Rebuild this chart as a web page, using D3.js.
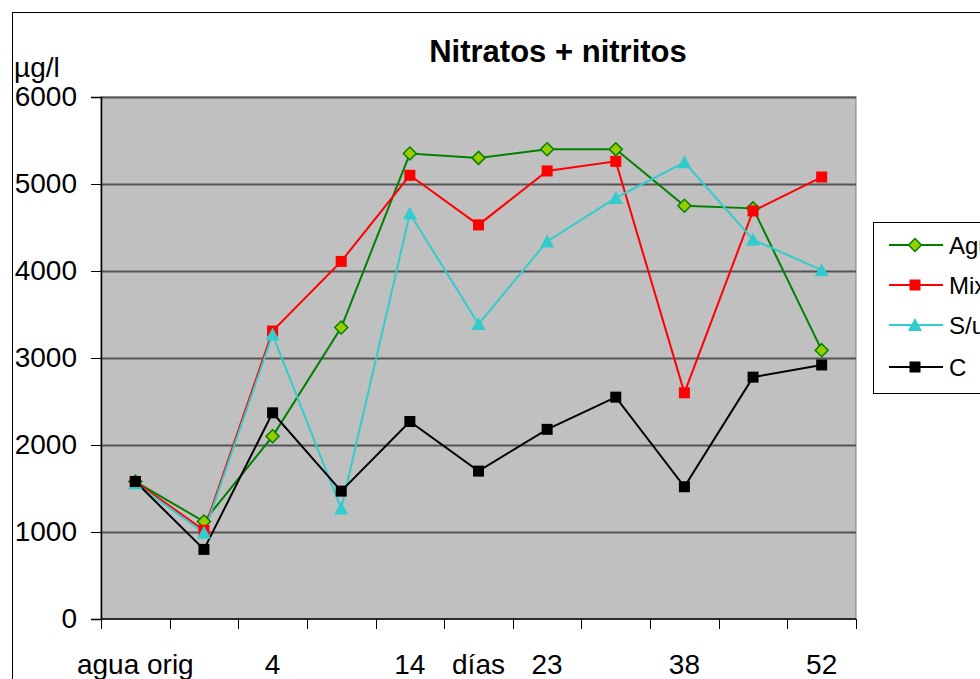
<!DOCTYPE html>
<html>
<head>
<meta charset="utf-8">
<script src="https://cdn.jsdelivr.net/npm/d3@7"></script>
<style>
  html, body { margin: 0; padding: 0; background: #fff; overflow: hidden; }
  svg { display: block; font-family: "Liberation Sans", Arial, sans-serif; }
</style>
</head>
<body>
<svg id="chart" width="980" height="679"></svg>
<script>
// Category labels along the x axis (sampling days)
const categories = ["agua orig", "", "4", "", "14", "días", "23", "", "38", "", "52"];
const yTicks = [0, 1000, 2000, 3000, 4000, 5000, 6000];

// Nitrate + nitrite concentration (µg/l) per treatment
const agua = [1580, 1120, 2100, 3350, 5350, 5300, 5400, 5400, 4750, 4720, 3090];
const mix  = [1580, 1020, 3310, 4110, 5100, 4530, 5150, 5260, 2600, 4690, 5080];
const su   = [1560, 990, 3270, 1270, 4660, 3390, 4340, 4840, 5250, 4360, 4010];
const ctrl = [1580, 800, 2370, 1470, 2270, 1700, 2180, 2550, 1520, 2780, 2920];

const seriesNames = ["Agua", "Mixta", "S/uso", "C"];

const series = [
  { name: seriesNames[0], values: agua, stroke: "#008000", fill: "#99cc00", shape: "diamond" },
  { name: seriesNames[1], values: mix,  stroke: "#ff0000", fill: "#ff0000", shape: "square" },
  { name: seriesNames[2], values: su,   stroke: "#33cccc", fill: "#33cccc", shape: "triangle" },
  { name: seriesNames[3], values: ctrl, stroke: "#000000", fill: "#000000", shape: "square" }
];

const svg = d3.select("#chart");
const plot = { left: 101, right: 856, top: 97, bottom: 619 };

// Outer chart frame
svg.append("rect")
  .attr("x", 12.5).attr("y", 12.5)
  .attr("width", 1000).attr("height", 700)
  .attr("fill", "#fff").attr("stroke", "#000").attr("stroke-width", 1);

const x = d3.scaleBand()
  .domain(d3.range(categories.length))
  .range([plot.left, plot.right])
  .paddingInner(0).paddingOuter(0);

const y = d3.scaleLinear()
  .domain([0, 6000])
  .range([plot.bottom, plot.top]);

// Plot background
svg.append("rect")
  .attr("x", plot.left).attr("y", plot.top)
  .attr("width", plot.right - plot.left).attr("height", plot.bottom - plot.top)
  .attr("fill", "#c0c0c0").attr("stroke", "#808080").attr("stroke-width", 1);

// Horizontal gridlines
svg.append("g")
  .selectAll("line")
  .data(yTicks.filter(d => d > 0))
  .join("line")
  .attr("x1", plot.left).attr("x2", plot.right)
  .attr("y1", d => Math.round(y(d)) + 0.5).attr("y2", d => Math.round(y(d)) + 0.5)
  .attr("stroke", "#555").attr("stroke-width", 2);

// Y axis
const yAxis = svg.append("g")
  .attr("transform", `translate(${plot.left},0)`)
  .call(d3.axisLeft(y).tickValues(yTicks).tickSize(10).tickPadding(14).tickFormat(d3.format("d")));
yAxis.select(".domain").attr("stroke", "#000").attr("stroke-width", 1.5);
yAxis.selectAll(".tick line").attr("stroke", "#000");
yAxis.selectAll(".tick text")
  .attr("font-size", 28).attr("fill", "#000")
  .attr("font-family", "Liberation Sans, Arial, sans-serif");

// X axis: ticks at category boundaries, labels at category centres
const xAxisG = svg.append("g").attr("transform", `translate(0,${plot.bottom})`);
xAxisG.append("line")
  .attr("x1", plot.left).attr("x2", plot.right)
  .attr("y1", 0).attr("y2", 0)
  .attr("stroke", "#000").attr("stroke-width", 1.5);
xAxisG.selectAll("line.tick")
  .data(d3.range(categories.length + 1))
  .join("line")
  .attr("class", "tick")
  .attr("x1", i => Math.round(plot.left + i * x.step()) + 0.5)
  .attr("x2", i => Math.round(plot.left + i * x.step()) + 0.5)
  .attr("y1", 0).attr("y2", 10)
  .attr("stroke", "#000");
xAxisG.selectAll("text")
  .data(categories)
  .join("text")
  .attr("x", (d, i) => x(i) + x.bandwidth() / 2)
  .attr("y", 55)
  .attr("text-anchor", "middle")
  .attr("font-size", 28)
  .attr("fill", "#000")
  .text(d => d);

// Title and unit label
svg.append("text")
  .attr("x", 558).attr("y", 62)
  .attr("text-anchor", "middle")
  .attr("font-size", 31).attr("font-weight", "bold")
  .text("Nitratos + nitritos");
svg.append("text")
  .attr("x", 14).attr("y", 77)
  .attr("font-size", 28)
  .text("µg/l");

// Marker drawing
function marker(g, shape, stroke, fill) {
  if (shape === "diamond") {
    g.append("path").attr("d", "M0,-6.5L6.5,0L0,6.5L-6.5,0Z")
      .attr("fill", fill).attr("stroke", stroke).attr("stroke-width", 1.5);
  } else if (shape === "square") {
    g.append("rect").attr("x", -5.5).attr("y", -5.5).attr("width", 11).attr("height", 11)
      .attr("fill", fill);
  } else {
    g.append("path").attr("d", "M0,-7L7,6L-7,6Z").attr("fill", fill);
  }
}

const line = d3.line()
  .x((d, i) => x(i) + x.bandwidth() / 2)
  .y(d => y(d));

// Lines first, in legend order
series.forEach(s => {
  svg.append("path")
    .datum(s.values)
    .attr("d", line)
    .attr("fill", "none")
    .attr("stroke", s.stroke)
    .attr("stroke-width", 2);
});
series.forEach(s => {
  svg.append("g").selectAll("g")
    .data(s.values)
    .join("g")
    .attr("transform", (d, i) => `translate(${x(i) + x.bandwidth() / 2},${y(d)})`)
    .each(function () { marker(d3.select(this), s.shape, s.stroke, s.fill); });
});

// Legend (continues past the right edge of the frame)
const legend = svg.append("g");
legend.append("rect")
  .attr("x", 873.5).attr("y", 222.5)
  .attr("width", 200).attr("height", 171)
  .attr("fill", "#fff").attr("stroke", "#000");
const legendY = [245, 285, 325, 367];
series.forEach((s, i) => {
  const g = legend.append("g").attr("transform", `translate(0,${legendY[i]})`);
  g.append("line").attr("x1", 889).attr("x2", 943).attr("y1", 0).attr("y2", 0)
    .attr("stroke", s.stroke).attr("stroke-width", 2);
  marker(g.append("g").attr("transform", "translate(915,0)"), s.shape, s.stroke, s.fill);
  g.append("text").attr("x", 949).attr("y", 9)
    .attr("font-size", 24).text(s.name);
});
</script>
</body>
</html>
